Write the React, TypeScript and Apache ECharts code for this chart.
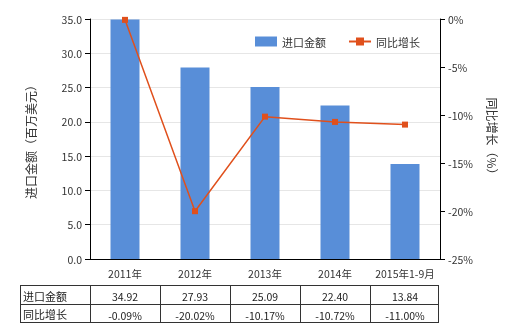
import React, { useEffect, useRef } from "react";
import * as echarts from "echarts";

const categories = ["2011年", "2012年", "2013年", "2014年", "2015年1-9月"];
const importValues = [34.92, 27.93, 25.09, 22.4, 13.84];
const growthValues = [-0.09, -20.02, -10.17, -10.72, -11.0];
const importLabels = ["34.92", "27.93", "25.09", "22.40", "13.84"];
const growthLabels = ["-0.09%", "-20.02%", "-10.17%", "-10.72%", "-11.00%"];
const rowNames = ["进口金额", "同比增长"];

const FONT = "'Noto Sans CJK SC', 'Noto Sans', sans-serif";

export default function App() {
  const ref = useRef<HTMLDivElement>(null);
  useEffect(() => {
    if (!ref.current) return;
    const chart = echarts.init(ref.current, null, { renderer: "svg" });
    const option: any = {
      animation: false,
      textStyle: { fontFamily: FONT },
      legend: {
        top: 31,
        left: 250,
        itemWidth: 22,
        itemHeight: 10,
        itemGap: 22,
        textStyle: { fontSize: 11, color: "#333", fontFamily: FONT },
        data: [
          { name: "进口金额", icon: "rect" },
          { name: "同比增长" },
        ],
      },
      grid: { left: 90, right: 80, top: 19, bottom: 71 },
      xAxis: {
        type: "category",
        data: categories,
        axisLine: { lineStyle: { color: "#000" } },
        axisTick: { alignWithLabel: true, lineStyle: { color: "#000" } },
        axisLabel: { interval: 0, fontSize: 10.5, color: "#333", fontFamily: FONT, margin: 9 },
      },
      yAxis: [
        {
          type: "value",
          min: 0,
          max: 35,
          interval: 5,
          name: "进口金额（百万美元）",
          nameLocation: "middle",
          nameGap: 54,
          nameTextStyle: { fontSize: 12, color: "#333", fontFamily: FONT },
          axisLine: { show: true, lineStyle: { color: "#000" } },
          axisTick: { show: true, lineStyle: { color: "#000" } },
          axisLabel: {
            fontSize: 10.5,
            color: "#333",
            fontFamily: FONT,
            formatter: (v: number) => v.toFixed(1),
          },
          splitLine: { lineStyle: { color: "#e6e6e6" } },
        },
        {
          type: "value",
          min: -25,
          max: 0,
          interval: 5,
          name: "同比增长（%）",
          nameLocation: "middle",
          nameGap: 46,
          nameRotate: -90,
          nameTextStyle: { fontSize: 12, color: "#333", fontFamily: FONT },
          axisLine: { show: true, lineStyle: { color: "#000" } },
          axisTick: { show: true, lineStyle: { color: "#000" } },
          axisLabel: {
            fontSize: 10.5,
            color: "#333",
            fontFamily: FONT,
            formatter: "{value}%",
          },
          splitLine: { show: false },
        },
      ],
      series: [
        {
          name: "进口金额",
          type: "bar",
          data: importValues,
          barWidth: 29,
          itemStyle: { color: "#588ed8" },
        },
        {
          name: "同比增长",
          type: "line",
          yAxisIndex: 1,
          data: growthValues,
          symbol: "rect",
          symbolSize: 6,
          itemStyle: { color: "#e0501c" },
          lineStyle: { color: "#e0501c", width: 1.5 },
        },
      ],
    };
    chart.setOption(option);

    const xs = categories.map((c) => chart.convertToPixel({ xAxisIndex: 0 }, c) as number);
    const half = xs.length > 1 ? (xs[1] - xs[0]) / 2 : 35;
    const tableLeft = 20;
    const firstColRight = xs[0] - half;
    const tableRight = xs[xs.length - 1] + half - 2;
    const rowTops = [285, 304, 322];
    const elements: any[] = [];
    const lineStyle = { stroke: "#333", lineWidth: 1 };
    rowTops.forEach((y) => {
      elements.push({ type: "line", shape: { x1: tableLeft, y1: y + 0.5, x2: tableRight + 0.5, y2: y + 0.5 }, style: lineStyle, silent: true });
    });
    const colXs = [tableLeft, firstColRight, ...xs.slice(0, -1).map((x) => x + half), tableRight];
    colXs.forEach((x) => {
      elements.push({ type: "line", shape: { x1: Math.round(x) + 0.5, y1: rowTops[0], x2: Math.round(x) + 0.5, y2: rowTops[2] + 1 }, style: lineStyle, silent: true });
    });
    const rows = [importLabels, growthLabels];
    rows.forEach((vals, r) => {
      const cy = (rowTops[r] + rowTops[r + 1]) / 2 + 1;
      elements.push({
        type: "text",
        x: tableLeft + 3,
        y: cy,
        style: { text: rowNames[r], fontSize: 11, fill: "#222", fontFamily: FONT, align: "left", verticalAlign: "middle" },
        silent: true,
      });
      vals.forEach((v, i) => {
        elements.push({
          type: "text",
          x: xs[i],
          y: cy + 1,
          style: { text: v, fontSize: 10.5, fill: "#222", fontFamily: FONT, align: "center", verticalAlign: "middle" },
          silent: true,
        });
      });
    });
    chart.setOption({ graphic: elements });

    return () => chart.dispose();
  }, []);
  return <div ref={ref} style={{ position: "fixed", left: 0, top: 0, width: 520, height: 330 }} />;
}
